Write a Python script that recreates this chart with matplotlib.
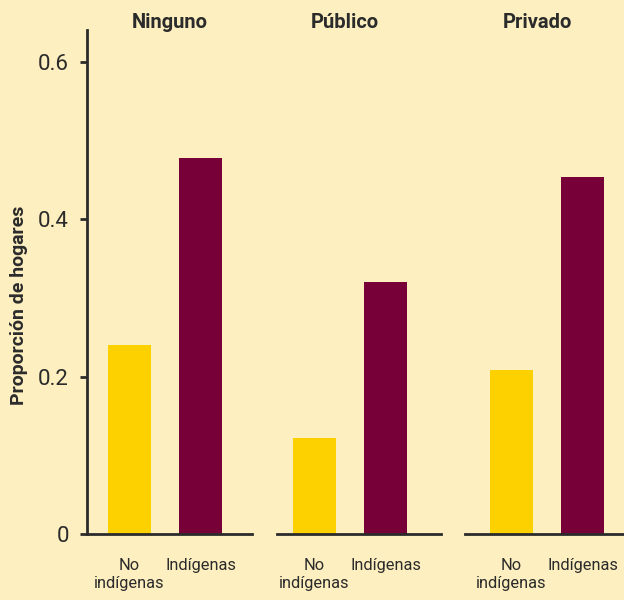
import matplotlib
matplotlib.use("Agg")
import matplotlib.pyplot as plt
from matplotlib import font_manager

groups = ["Ninguno", "Público", "Privado"]
categories = ["No\nindígenas", "Indígenas"]
values = {
    "Ninguno": [0.240, 0.478],
    "Público": [0.122, 0.320],
    "Privado": [0.208, 0.454],
}
yticks = [0, 0.2, 0.4, 0.6]
yticklabels = ["0", "0.2", "0.4", "0.6"]
ylabel = "Proporción de hogares"

BG = "#FDEFBF"
YELLOW = "#FDD000"
MAROON = "#780038"
INK = "#2b2b2b"

names = {f.name for f in font_manager.fontManager.ttflist}
fam = "Liberation Sans Narrow" if "Liberation Sans Narrow" in names else "Roboto"
plt.rcParams["font.family"] = [fam, "DejaVu Sans"]

W, H = 624, 600
fig = plt.figure(figsize=(W / 100, H / 100), dpi=100, facecolor=BG)

# layout in pixels: (axes left, axes right, center of first bar, title center x)
layout = [(87, 252, 129.5, 170), (277, 441, 314.5, 345), (465, 630, 511.5, 537)]
step = 71.0
bw = 43 / step
top_px, bot_px = 30, 534
ymax = (bot_px - top_px) / ((bot_px - 62) / 0.6)

for i, (g, (L, R, c0, tx)) in enumerate(zip(groups, layout)):
    ax = fig.add_axes([L / W, 1 - bot_px / H, (R - L) / W, (bot_px - top_px) / H])
    ax.set_facecolor("none")
    ax.bar([0, 1], values[g], width=bw, color=[YELLOW, MAROON])
    ax.set_xlim((L - c0) / step, (R - c0) / step)
    ax.set_ylim(0, ymax)
    for s in ["top", "right"]:
        ax.spines[s].set_visible(False)
    ax.spines["bottom"].set_color(INK)
    ax.spines["bottom"].set_linewidth(2)
    ax.set_xticks([0, 1])
    ax.set_xticklabels(categories, fontsize=11.8, color=INK, linespacing=1.3,
                       multialignment="center")
    ax.tick_params(axis="x", length=0, pad=17)
    if i == 0:
        ax.spines["left"].set_color(INK)
        ax.spines["left"].set_linewidth(2)
        ax.set_yticks(yticks)
        ax.set_yticklabels(yticklabels, fontsize=16, color=INK)
        ax.tick_params(axis="y", length=5, width=2, color=INK, pad=8)
    else:
        ax.spines["left"].set_visible(False)
        ax.set_yticks([])
    fig.text(tx / W, 1 - 22 / H, g, ha="center", va="center", fontsize=14.5,
             fontweight="bold", color=INK)

fig.text(19 / W, 1 - 305 / H, ylabel, rotation=90, ha="center", va="center",
         fontsize=14, fontweight="bold", color=INK)

fig.savefig("out.png", dpi=100, facecolor=BG)
